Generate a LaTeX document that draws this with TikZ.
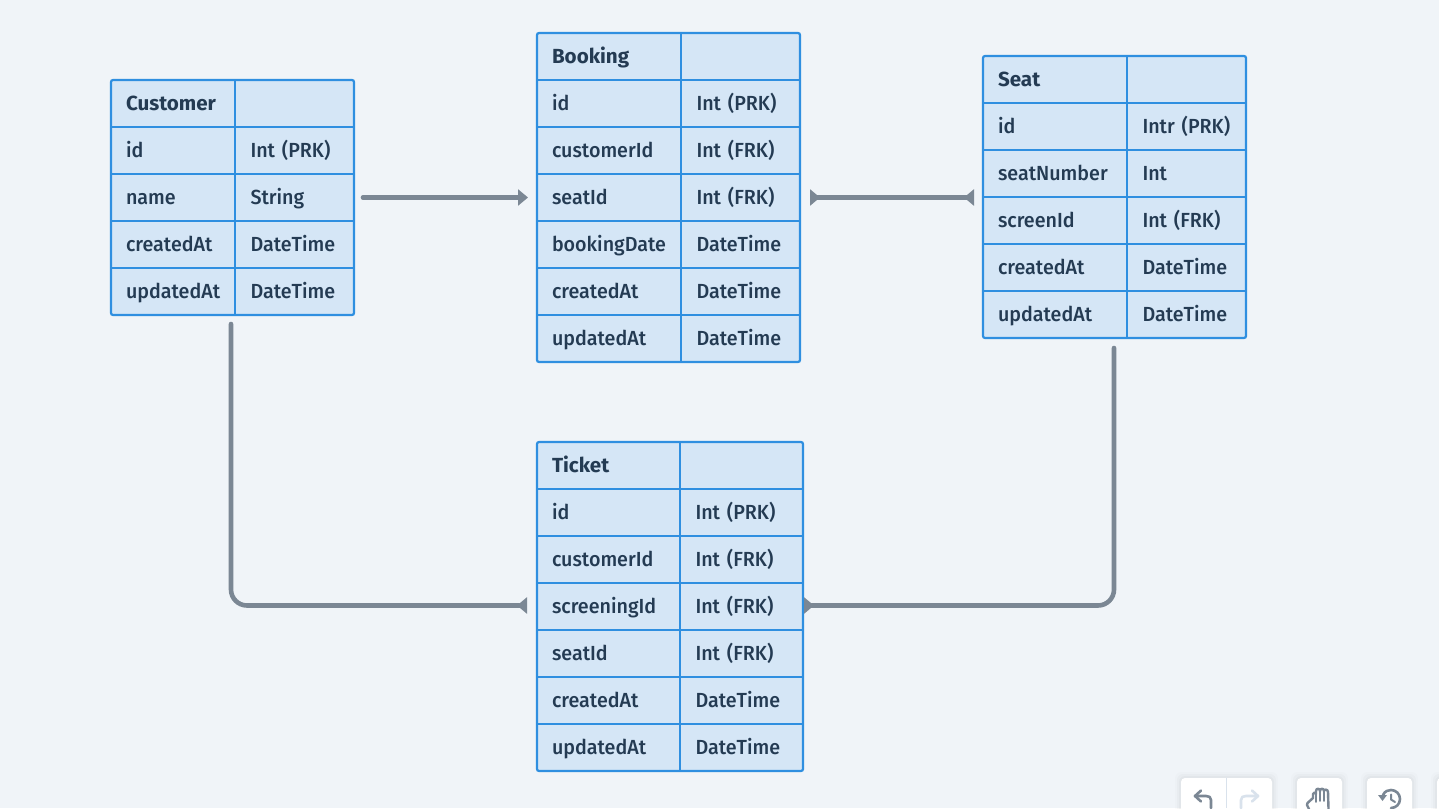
\documentclass[tikz,border=0pt]{standalone}
\usepackage{fontspec}
\setmainfont[FakeStretch=0.965]{Fira Sans Medium}
\newfontfamily\titlefont[FakeStretch=1.01]{Fira Sans}
\usetikzlibrary{arrows.meta,calc}
\definecolor{pagebg}{HTML}{F0F4F8}
\definecolor{cellfill}{HTML}{D5E6F6}
\definecolor{cellline}{HTML}{2F8FE0}
\definecolor{ink}{HTML}{243B53}
\definecolor{conn}{HTML}{7B8794}
\definecolor{iconoff}{HTML}{D9E2EC}
\tikzset{
 x=1pt,y=-1pt,
 tablebox/.style={draw=cellline,fill=cellfill,line width=2.2pt,rounded corners=2pt,inner sep=0pt,outer sep=0pt,anchor=north west},
 cell/.style={anchor=north west,inner xsep=15pt,inner ysep=0pt,outer sep=0pt,minimum height=47pt,align=left,text=ink,font=\fontsize{20.4}{22}\selectfont,text height=18pt,text depth=4pt},
 rule/.style={draw=cellline,line width=2.2pt},
 link/.style={draw=conn,line width=4.6pt,line cap=round},
 fwd/.style={-{Triangle[length=10pt,width=16pt]}},
 bwd/.style={-{Triangle[reversed,length=10pt,width=16pt]}},
 bothbwd/.style={{Triangle[reversed,length=10pt,width=16pt]}-{Triangle[reversed,length=10pt,width=16pt]}},
 toolbtn/.style={fill=white,rounded corners=4pt,draw=none},
 icon/.style={draw=conn,line width=2.6pt,line cap=round,line join=round},
}
% name, x0, xmid, x1, y0, rows, title
\newcommand{\erd}[7]{%
  \foreach \a/\b [count=\i from 1] in {#6} {\global\let\lastrow\i}%
  \pgfmathsetmacro{\wl}{#3-#2-30}\pgfmathsetmacro{\wr}{#4-#3-30}%
  \pgfmathsetmacro{\tabw}{#4-#2}\pgfmathsetmacro{\tabh}{47*(\lastrow+1)}%
  \node[tablebox,minimum width=\tabw pt,minimum height=\tabh pt] (#1) at (#2,#5) {};
  \node[cell,text width=\wl pt,font=\fontsize{20.4}{22}\selectfont\titlefont\bfseries] (#1-0l) at (#2,#5) {#7};
  \node[cell,text width=\wr pt] (#1-0r) at (#3,#5) {};
  \draw[rule] ({#3-0.7},#5) -- ({#3-0.7},{#5+\tabh});
  \foreach \a/\b [count=\i from 1] in {#6} {
    \pgfmathsetmacro{\yy}{#5+47*\i}
    \node[cell,text width=\wl pt] (#1-\i l) at (#2,\yy) {\a};
    \node[cell,text width=\wr pt] (#1-\i r) at (#3,\yy) {\b};
    \draw[rule] (#1-\i l.north west) -- (#4,\yy);
  }
}
\begin{document}
\begin{tikzpicture}
\useasboundingbox (0,0) rectangle (1439,808);
\fill[pagebg] (0,0) rectangle (1439,808);

\erd{customer}{111}{235.5}{354}{80}{id/Int (PRK),name/String,createdAt/DateTime,updatedAt/DateTime}{Customer}
\erd{booking}{537}{681.5}{800}{33}{id/Int (PRK),customerId/Int (FRK),seatId/Int (FRK),bookingDate/DateTime,createdAt/DateTime,updatedAt/DateTime}{Booking}
\erd{seat}{983}{1127.5}{1246}{56}{id/Intr (PRK),seatNumber/Int,screenId/Int (FRK),createdAt/DateTime,updatedAt/DateTime}{Seat}
\erd{ticket}{537}{680.5}{803}{442}{id/Int (PRK),customerId/Int (FRK),screeningId/Int (FRK),seatId/Int (FRK),createdAt/DateTime,updatedAt/DateTime}{Ticket}

\draw[link,fwd] ([xshift=9pt]customer-2r.east) -- ([xshift=-9pt]booking-3l.west);
\draw[link,bothbwd] ([xshift=10pt]booking-3r.east) -- ([xshift=-9pt,yshift=-0.5pt]seat-3l.north west);
\draw[link,bwd,rounded corners=16pt] ([xshift=-1.5pt,yshift=-9pt]customer.south) |- ([xshift=-10pt,yshift=1pt]ticket-3l.west);
\draw[link,bwd,rounded corners=16pt] ([xshift=-0.5pt,yshift=-10pt]seat.south) |- ([xshift=1pt,yshift=1pt]ticket-3r.east);

% toolbar
\foreach \xa/\xb in {1181/1272,1297/1342,1367/1412,1437/1482}{
  \foreach \g/\o in {6/0.012,4/0.018,2/0.025}
    \fill[black,opacity=\o,rounded corners=6pt] (\xa-\g,778-\g) rectangle (\xb+\g,830);
  \fill[toolbtn] (\xa,778) rectangle (\xb,830);
}
\draw[iconoff,line width=1pt] (1226.5,778) -- (1226.5,808);
% undo / redo
\draw[icon] (1211,808) -- (1211,800) .. controls (1211,797) and (1209,796) .. (1206,796) -- (1195,796);
\draw[icon] (1201,790.5) -- (1195,796) -- (1201,801.5);
\draw[icon,draw=iconoff] (1241,808) -- (1241,800) .. controls (1241,797) and (1243,796) .. (1246,796) -- (1258,796);
\draw[icon,draw=iconoff] (1252,790.5) -- (1258,796) -- (1252,801.5);
% hand
\draw[icon,line width=2.4pt] (1309,809) -- (1307,805) -- (1307.5,803) -- (1313,798) -- (1313,794)
  .. controls (1313,792) and (1316,792) .. (1316,794) -- (1316,791)
  .. controls (1316,788) and (1320,788) .. (1320,791)
  .. controls (1320,788) and (1324,788) .. (1324,791)
  .. controls (1324,789) and (1328,789) .. (1328,792) -- (1328.5,809);
\draw[icon,line width=1.8pt] (1316,794) -- (1316,802) (1320,791) -- (1320,801) (1324,791) -- (1324,801);
% history
\draw[icon] (1383,795) .. controls (1385,791) and (1388,790) .. (1391,790)
  .. controls (1396,790) and (1400,794) .. (1400,799)
  .. controls (1400,804) and (1396,808) .. (1391,808);
\fill[conn] (1378,795) -- (1387,795) -- (1382.5,801) -- cycle;
\draw[icon,line width=2pt] (1391,794.5) -- (1391,799.5) -- (1395,802);
\end{tikzpicture}
\end{document}
